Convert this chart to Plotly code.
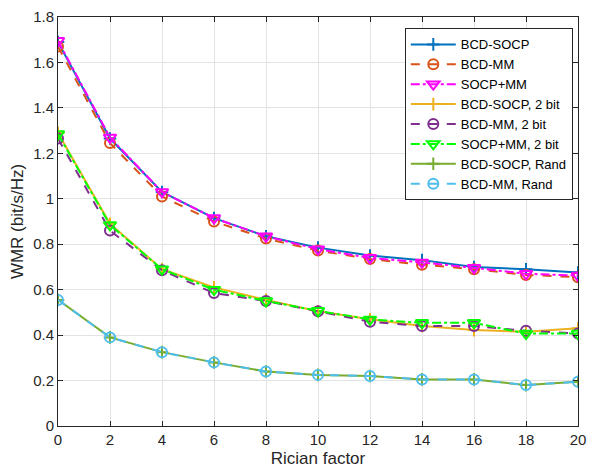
import plotly.graph_objects as go

rician = [0, 2, 4, 6, 8, 10, 12, 14, 16, 18, 20]

bcd_socp = [1.69, 1.265, 1.03, 0.915, 0.835, 0.785, 0.75, 0.73, 0.70, 0.69, 0.675]
bcd_mm = [1.67, 1.245, 1.01, 0.90, 0.825, 0.772, 0.735, 0.71, 0.69, 0.665, 0.655]
socp_mm = [1.695, 1.27, 1.03, 0.915, 0.835, 0.778, 0.74, 0.72, 0.696, 0.67, 0.662]
bcd_socp_2 = [1.29, 0.89, 0.69, 0.61, 0.555, 0.505, 0.47, 0.44, 0.422, 0.415, 0.43]
bcd_mm_2 = [1.265, 0.86, 0.685, 0.585, 0.55, 0.505, 0.459, 0.44, 0.44, 0.419, 0.407]
socp_mm_2 = [1.285, 0.885, 0.69, 0.60, 0.55, 0.507, 0.469, 0.454, 0.454, 0.407, 0.407]
bcd_socp_rand = [0.555, 0.39, 0.325, 0.28, 0.24, 0.225, 0.22, 0.205, 0.205, 0.18, 0.195]
bcd_mm_rand = [0.555, 0.39, 0.325, 0.28, 0.24, 0.225, 0.22, 0.205, 0.205, 0.18, 0.195]

series = [
    ("BCD-SOCP", bcd_socp, "#0072BD", "solid", "cross-thin-open", 9),
    ("BCD-MM", bcd_mm, "#D95319", "dash", "circle-open", 10),
    ("SOCP+MM", socp_mm, "#FF00FF", "dashdot", "triangle-down-open", 11),
    ("BCD-SOCP, 2 bit", bcd_socp_2, "#EDB120", "solid", "cross-thin-open", 9),
    ("BCD-MM, 2 bit", bcd_mm_2, "#7E2F8E", "dash", "circle-open", 10),
    ("SOCP+MM, 2 bit", socp_mm_2, "#00FF00", "dashdot", "triangle-down-open", 11),
    ("BCD-SOCP, Rand", bcd_socp_rand, "#77AC30", "solid", "cross-thin-open", 9),
    ("BCD-MM, Rand", bcd_mm_rand, "#4DBEEE", "dash", "circle-open", 10),
]

fig = go.Figure()
for name, ys, color, dash, sym, size in series:
    fig.add_trace(go.Scatter(
        x=rician, y=ys, name=name, mode="lines+markers",
        line=dict(color=color, width=2, dash=dash),
        marker=dict(symbol=sym, size=size, color=color, line=dict(color=color, width=2)),
    ))

axis_common = dict(
    showgrid=True, gridcolor="#e3e3e3", gridwidth=1,
    showline=True, linecolor="#262626", linewidth=1, mirror="ticks",
    ticks="inside", ticklen=5, tickcolor="#262626",
    zeroline=False, automargin=False,
    tickfont=dict(family="Liberation Sans, Arial", size=15, color="#262626"),
)

fig.update_layout(
    width=590, height=466,
    margin=dict(l=50, r=20, t=9, b=48),
    paper_bgcolor="white", plot_bgcolor="white",
    font=dict(family="Liberation Sans, Arial", size=15, color="#262626"),
    xaxis=dict(range=[0, 20], tickvals=rician, title=dict(text="Rician factor", standoff=5, font=dict(size=17)), **axis_common),
    yaxis=dict(range=[0, 1.8], dtick=0.2, tick0=0, title=dict(text="WMR (bit/s/Hz)", standoff=7, font=dict(size=17)), **axis_common),
    legend=dict(
        x=0.99, y=0.972, xanchor="right", yanchor="top",
        bgcolor="white", bordercolor="#262626", borderwidth=1,
        font=dict(family="Liberation Sans, Arial", size=13, color="black"),
        tracegroupgap=0, itemwidth=45,
    ),
)

fig.write_html("out.html")
